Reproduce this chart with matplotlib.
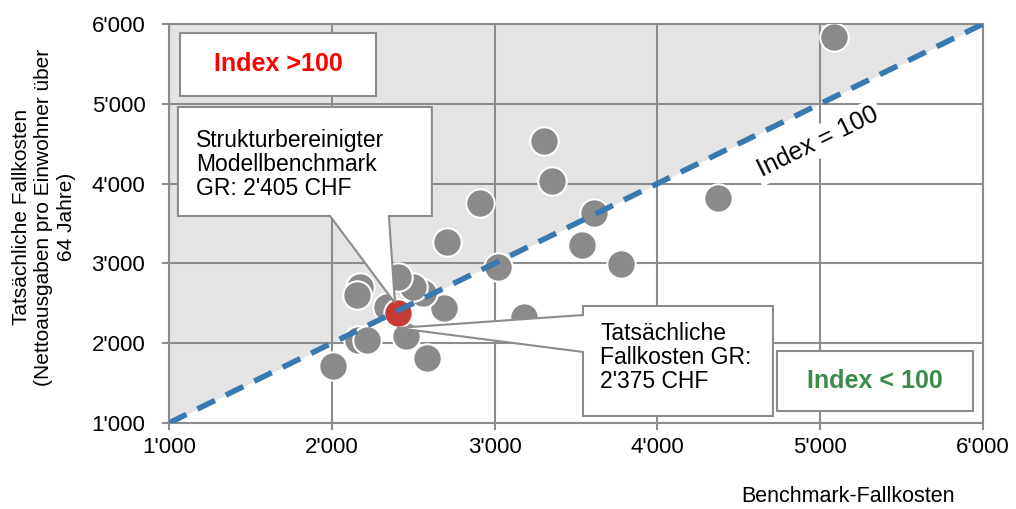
import matplotlib.pyplot as plt
from matplotlib.patches import Polygon
from matplotlib.ticker import FuncFormatter

plt.rcParams['font.family'] = ['Liberation Sans', 'DejaVu Sans']

# Benchmark-Fallkosten (x) vs. tatsächliche Fallkosten (y) je Kanton
bench = [5085, 3303, 3353, 2910, 2708, 3611, 4372, 3537, 3776, 3021, 3181,
         2689, 2560, 2500, 2407, 2173, 2155, 2339, 2161, 2216, 2456, 2585, 2007]
actual = [5837, 4534, 4033, 3757, 3268, 3632, 3820, 3231, 2993, 2955, 2328,
          2441, 2629, 2700, 2830, 2704, 2604, 2454, 2040, 2040, 2090, 1815, 1714]

gr_bench = 2405
gr_actual = 2375

ticks = [1000, 2000, 3000, 4000, 5000, 6000]
lo, hi = 1000, 6000

grid_col = '#8c8c8c'

fig = plt.figure(figsize=(10.16, 5.09), dpi=100)
ax = fig.add_axes([0.1663, 0.169, 0.8012, 0.7839])

# shaded region above the diagonal
ax.fill_between([lo, hi], [lo, hi], [hi, hi], color='#e4e4e4', zorder=0, lw=0)

ax.set_xlim(lo, hi)
ax.set_ylim(lo, hi)
ax.set_xticks(ticks)
ax.set_yticks(ticks)
fmt = FuncFormatter(lambda v, p: f"{int(v):,}".replace(",", "'"))
ax.xaxis.set_major_formatter(fmt)
ax.yaxis.set_major_formatter(fmt)
ax.grid(True, color=grid_col, lw=1.5, zorder=1)
for s in ax.spines.values():
    s.set_color(grid_col)
    s.set_linewidth(1.5)
    s.set_zorder(1)
ax.tick_params(colors=grid_col, labelcolor='black', labelsize=16, length=5, width=1.5)
ax.tick_params(axis='x', pad=5)
ax.tick_params(axis='y', pad=12)

ax.scatter(bench, actual, s=420, color='#8a8a8a', edgecolors='white', linewidths=1.5, zorder=3)
ax.scatter([gr_bench], [gr_actual], s=420, color='#c63a36', edgecolors='white', linewidths=1.5, zorder=4)

# Index = 100 line
ax.plot([lo, hi], [lo, hi], color='#3a78b0', lw=4, dashes=(3.5, 2.2), zorder=5)

ax.text(4987, 4520, "Index = 100", rotation=26.1, rotation_mode='anchor', ha='center', va='center',
        fontsize=18, zorder=6, bbox=dict(boxstyle='square,pad=0.15', fc='white', ec='none'))

# region labels
ax.add_patch(Polygon([(1068, 5887), (2272, 5887), (2272, 5098), (1068, 5098)], closed=True,
                     fc='white', ec=grid_col, lw=1.5, zorder=7))
ax.text((1068 + 2272) / 2, (5887 + 5098) / 2, "Index >100", color='#ff0000', fontsize=18,
        fontweight='bold', ha='center', va='center', zorder=8)

ax.add_patch(Polygon([(4735, 1902), (5939, 1902), (5939, 1150), (4735, 1150)], closed=True,
                     fc='white', ec=grid_col, lw=1.5, zorder=7))
ax.text((4735 + 5939) / 2, (1902 + 1150) / 2, "Index < 100", color='#3d8b4b', fontsize=18,
        fontweight='bold', ha='center', va='center', zorder=8)

# callout: model benchmark
ax.add_patch(Polygon([(1055, 4960), (2615, 4960), (2615, 3594), (2351, 3594), (2388, 2504),
                      (1989, 3594), (1055, 3594)], closed=True,
                     fc='white', ec=grid_col, lw=1.5, zorder=7))
ax.text(1165, 4680, "Strukturbereinigter\nModellbenchmark\nGR: 2'405 CHF", fontsize=16.5,
        ha='left', va='top', linespacing=1.05, zorder=8)

# callout: actual cost
ax.add_patch(Polygon([(3543, 2466), (4710, 2466), (4710, 1088), (3543, 1088), (3543, 1890),
                      (2400, 2190), (3543, 2353)], closed=True,
                     fc='white', ec=grid_col, lw=1.5, zorder=7))
ax.text(3650, 2260, "Tatsächliche\nFallkosten GR:\n2'375 CHF", fontsize=16.5,
        ha='left', va='top', linespacing=1.05, zorder=8)

fig.text(44 / 1016, 1 - 217 / 509,
         "Tatsächliche Fallkosten\n(Nettoausgaben pro Einwohner über\n64 Jahre)",
         fontsize=15, rotation=90, ha='center', va='center', linespacing=1.2,
         multialignment='center')
fig.text(848 / 1016, 1 - 496 / 509, "Benchmark-Fallkosten", fontsize=15.5, ha='center', va='center')

fig.savefig("out.png", dpi=100)
